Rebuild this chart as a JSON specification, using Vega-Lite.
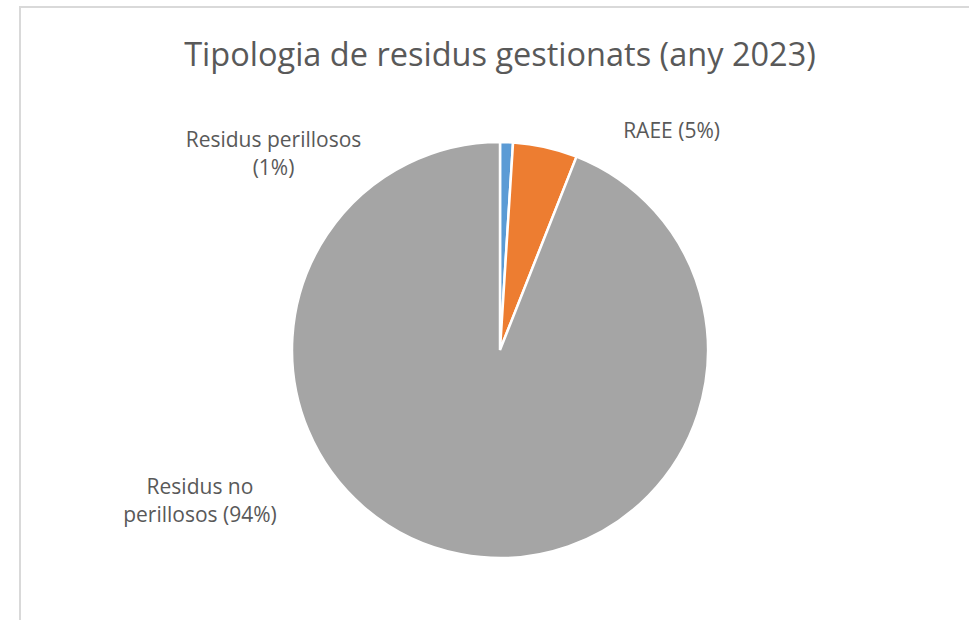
{
  "$schema": "https://vega.github.io/schema/vega-lite/v6.json",
  "autosize": "none",
  "width": 960,
  "height": 686,
  "padding": {"left": 20, "top": 7, "right": 0, "bottom": 0},
  "background": "white",
  "view": {"stroke": "#d9d9d9", "strokeWidth": 2, "fill": "white"},
  "title": {
    "text": "Tipologia de residus gestionats (any 2023)",
    "anchor": "middle",
    "orient": "top",
    "offset": -65,
    "font": "Open Sans",
    "fontSize": 32.5,
    "fontWeight": "normal",
    "color": "#595959"
  },
  "config": {
    "view": {"stroke": "#d9d9d9", "strokeWidth": 2},
    "text": {"font": "Open Sans"}
  },
  "data": {
    "values": [
      {"categoria": "Residus perillosos", "percent": 1, "idx": 1, "etiqueta": "Residus perillosos\n(1%)"},
      {"categoria": "RAEE", "percent": 5, "idx": 2, "etiqueta": "RAEE (5%)"},
      {"categoria": "Residus no perillosos", "percent": 94, "idx": 3, "etiqueta": "Residus no\nperillosos (94%)"}
    ]
  },
  "encoding": {
    "theta": {"field": "percent", "type": "quantitative", "stack": true},
    "order": {"field": "idx", "type": "quantitative"}
  },
  "layer": [
    {
      "mark": {"type": "arc", "radius": 208, "stroke": "white", "strokeWidth": 2.5},
      "encoding": {
        "color": {
          "field": "categoria",
          "type": "nominal",
          "scale": {
            "domain": ["Residus perillosos", "RAEE", "Residus no perillosos"],
            "range": ["#5B9BD5", "#ED7D31", "#A5A5A5"]
          },
          "legend": null
        }
      }
    },
    {
      "transform": [{"filter": "datum.idx == 1"}],
      "mark": {"type": "text", "radius": 240, "dx": -234, "dy": 31, "fontSize": 21, "color": "#595959", "lineBreak": "\n", "lineHeight": 28, "align": "center", "baseline": "middle"},
      "encoding": {"text": {"field": "etiqueta"}}
    },
    {
      "transform": [{"filter": "datum.idx == 2"}],
      "mark": {"type": "text", "radius": 240, "dx": 134, "dy": 19, "fontSize": 21, "color": "#595959", "lineBreak": "\n", "lineHeight": 28, "align": "center", "baseline": "middle"},
      "encoding": {"text": {"field": "etiqueta"}}
    },
    {
      "transform": [{"filter": "datum.idx == 3"}],
      "mark": {"type": "text", "radius": 240, "dx": -345, "dy": -98, "fontSize": 21, "color": "#595959", "lineBreak": "\n", "lineHeight": 28, "align": "center", "baseline": "middle"},
      "encoding": {"text": {"field": "etiqueta"}}
    }
  ]
}
